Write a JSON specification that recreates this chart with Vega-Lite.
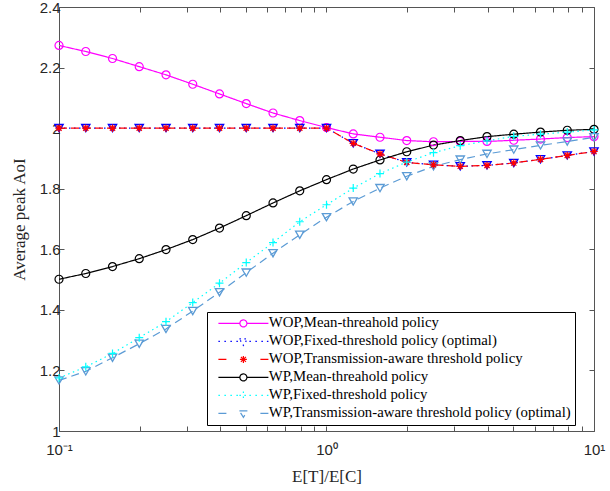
{
  "$schema": "https://vega.github.io/schema/vega-lite/v6.json",
  "width": 535,
  "height": 424,
  "autosize": {"type": "none"},
  "padding": {"left": 59, "top": 7, "right": 16, "bottom": 60},
  "background": "white",
  "config": {
    "font": "Liberation Sans",
    "view": {"stroke": "#555555", "strokeWidth": 1}
  },
  "data": {
    "values": [
      {"ratio": 0.1, "aoi": 2.273, "policy": "WOP,Mean-threahold policy"},
      {"ratio": 0.1259, "aoi": 2.253, "policy": "WOP,Mean-threahold policy"},
      {"ratio": 0.1585, "aoi": 2.230, "policy": "WOP,Mean-threahold policy"},
      {"ratio": 0.1995, "aoi": 2.203, "policy": "WOP,Mean-threahold policy"},
      {"ratio": 0.2512, "aoi": 2.176, "policy": "WOP,Mean-threahold policy"},
      {"ratio": 0.3162, "aoi": 2.145, "policy": "WOP,Mean-threahold policy"},
      {"ratio": 0.3981, "aoi": 2.113, "policy": "WOP,Mean-threahold policy"},
      {"ratio": 0.5012, "aoi": 2.081, "policy": "WOP,Mean-threahold policy"},
      {"ratio": 0.631, "aoi": 2.050, "policy": "WOP,Mean-threahold policy"},
      {"ratio": 0.7943, "aoi": 2.025, "policy": "WOP,Mean-threahold policy"},
      {"ratio": 1, "aoi": 2.002, "policy": "WOP,Mean-threahold policy"},
      {"ratio": 1.2589, "aoi": 1.981, "policy": "WOP,Mean-threahold policy"},
      {"ratio": 1.5849, "aoi": 1.970, "policy": "WOP,Mean-threahold policy"},
      {"ratio": 1.9953, "aoi": 1.959, "policy": "WOP,Mean-threahold policy"},
      {"ratio": 2.5119, "aoi": 1.955, "policy": "WOP,Mean-threahold policy"},
      {"ratio": 3.1623, "aoi": 1.956, "policy": "WOP,Mean-threahold policy"},
      {"ratio": 3.9811, "aoi": 1.956, "policy": "WOP,Mean-threahold policy"},
      {"ratio": 5.0119, "aoi": 1.960, "policy": "WOP,Mean-threahold policy"},
      {"ratio": 6.3096, "aoi": 1.964, "policy": "WOP,Mean-threahold policy"},
      {"ratio": 7.9433, "aoi": 1.969, "policy": "WOP,Mean-threahold policy"},
      {"ratio": 10, "aoi": 1.972, "policy": "WOP,Mean-threahold policy"},

      {"ratio": 0.1, "aoi": 2.0, "policy": "WOP,Fixed-threshold policy (optimal)"},
      {"ratio": 0.1259, "aoi": 2.0, "policy": "WOP,Fixed-threshold policy (optimal)"},
      {"ratio": 0.1585, "aoi": 2.0, "policy": "WOP,Fixed-threshold policy (optimal)"},
      {"ratio": 0.1995, "aoi": 2.0, "policy": "WOP,Fixed-threshold policy (optimal)"},
      {"ratio": 0.2512, "aoi": 2.0, "policy": "WOP,Fixed-threshold policy (optimal)"},
      {"ratio": 0.3162, "aoi": 2.0, "policy": "WOP,Fixed-threshold policy (optimal)"},
      {"ratio": 0.3981, "aoi": 2.0, "policy": "WOP,Fixed-threshold policy (optimal)"},
      {"ratio": 0.5012, "aoi": 2.0, "policy": "WOP,Fixed-threshold policy (optimal)"},
      {"ratio": 0.631, "aoi": 2.0, "policy": "WOP,Fixed-threshold policy (optimal)"},
      {"ratio": 0.7943, "aoi": 2.0, "policy": "WOP,Fixed-threshold policy (optimal)"},
      {"ratio": 1, "aoi": 2.0, "policy": "WOP,Fixed-threshold policy (optimal)"},
      {"ratio": 1.2589, "aoi": 1.950, "policy": "WOP,Fixed-threshold policy (optimal)"},
      {"ratio": 1.5849, "aoi": 1.915, "policy": "WOP,Fixed-threshold policy (optimal)"},
      {"ratio": 1.9953, "aoi": 1.887, "policy": "WOP,Fixed-threshold policy (optimal)"},
      {"ratio": 2.5119, "aoi": 1.879, "policy": "WOP,Fixed-threshold policy (optimal)"},
      {"ratio": 3.1623, "aoi": 1.874, "policy": "WOP,Fixed-threshold policy (optimal)"},
      {"ratio": 3.9811, "aoi": 1.877, "policy": "WOP,Fixed-threshold policy (optimal)"},
      {"ratio": 5.0119, "aoi": 1.885, "policy": "WOP,Fixed-threshold policy (optimal)"},
      {"ratio": 6.3096, "aoi": 1.897, "policy": "WOP,Fixed-threshold policy (optimal)"},
      {"ratio": 7.9433, "aoi": 1.910, "policy": "WOP,Fixed-threshold policy (optimal)"},
      {"ratio": 10, "aoi": 1.923, "policy": "WOP,Fixed-threshold policy (optimal)"},

      {"ratio": 0.1, "aoi": 2.0, "policy": "WOP,Transmission-aware threshold policy"},
      {"ratio": 0.1259, "aoi": 2.0, "policy": "WOP,Transmission-aware threshold policy"},
      {"ratio": 0.1585, "aoi": 2.0, "policy": "WOP,Transmission-aware threshold policy"},
      {"ratio": 0.1995, "aoi": 2.0, "policy": "WOP,Transmission-aware threshold policy"},
      {"ratio": 0.2512, "aoi": 2.0, "policy": "WOP,Transmission-aware threshold policy"},
      {"ratio": 0.3162, "aoi": 2.0, "policy": "WOP,Transmission-aware threshold policy"},
      {"ratio": 0.3981, "aoi": 2.0, "policy": "WOP,Transmission-aware threshold policy"},
      {"ratio": 0.5012, "aoi": 2.0, "policy": "WOP,Transmission-aware threshold policy"},
      {"ratio": 0.631, "aoi": 2.0, "policy": "WOP,Transmission-aware threshold policy"},
      {"ratio": 0.7943, "aoi": 2.0, "policy": "WOP,Transmission-aware threshold policy"},
      {"ratio": 1, "aoi": 2.0, "policy": "WOP,Transmission-aware threshold policy"},
      {"ratio": 1.2589, "aoi": 1.950, "policy": "WOP,Transmission-aware threshold policy"},
      {"ratio": 1.5849, "aoi": 1.915, "policy": "WOP,Transmission-aware threshold policy"},
      {"ratio": 1.9953, "aoi": 1.887, "policy": "WOP,Transmission-aware threshold policy"},
      {"ratio": 2.5119, "aoi": 1.879, "policy": "WOP,Transmission-aware threshold policy"},
      {"ratio": 3.1623, "aoi": 1.874, "policy": "WOP,Transmission-aware threshold policy"},
      {"ratio": 3.9811, "aoi": 1.877, "policy": "WOP,Transmission-aware threshold policy"},
      {"ratio": 5.0119, "aoi": 1.885, "policy": "WOP,Transmission-aware threshold policy"},
      {"ratio": 6.3096, "aoi": 1.897, "policy": "WOP,Transmission-aware threshold policy"},
      {"ratio": 7.9433, "aoi": 1.910, "policy": "WOP,Transmission-aware threshold policy"},
      {"ratio": 10, "aoi": 1.923, "policy": "WOP,Transmission-aware threshold policy"},

      {"ratio": 0.1, "aoi": 1.501, "policy": "WP,Mean-threahold policy"},
      {"ratio": 0.1259, "aoi": 1.520, "policy": "WP,Mean-threahold policy"},
      {"ratio": 0.1585, "aoi": 1.543, "policy": "WP,Mean-threahold policy"},
      {"ratio": 0.1995, "aoi": 1.569, "policy": "WP,Mean-threahold policy"},
      {"ratio": 0.2512, "aoi": 1.599, "policy": "WP,Mean-threahold policy"},
      {"ratio": 0.3162, "aoi": 1.632, "policy": "WP,Mean-threahold policy"},
      {"ratio": 0.3981, "aoi": 1.670, "policy": "WP,Mean-threahold policy"},
      {"ratio": 0.5012, "aoi": 1.711, "policy": "WP,Mean-threahold policy"},
      {"ratio": 0.631, "aoi": 1.753, "policy": "WP,Mean-threahold policy"},
      {"ratio": 0.7943, "aoi": 1.793, "policy": "WP,Mean-threahold policy"},
      {"ratio": 1, "aoi": 1.830, "policy": "WP,Mean-threahold policy"},
      {"ratio": 1.2589, "aoi": 1.865, "policy": "WP,Mean-threahold policy"},
      {"ratio": 1.5849, "aoi": 1.895, "policy": "WP,Mean-threahold policy"},
      {"ratio": 1.9953, "aoi": 1.922, "policy": "WP,Mean-threahold policy"},
      {"ratio": 2.5119, "aoi": 1.944, "policy": "WP,Mean-threahold policy"},
      {"ratio": 3.1623, "aoi": 1.959, "policy": "WP,Mean-threahold policy"},
      {"ratio": 3.9811, "aoi": 1.972, "policy": "WP,Mean-threahold policy"},
      {"ratio": 5.0119, "aoi": 1.980, "policy": "WP,Mean-threahold policy"},
      {"ratio": 6.3096, "aoi": 1.987, "policy": "WP,Mean-threahold policy"},
      {"ratio": 7.9433, "aoi": 1.993, "policy": "WP,Mean-threahold policy"},
      {"ratio": 10, "aoi": 1.996, "policy": "WP,Mean-threahold policy"},

      {"ratio": 0.1, "aoi": 1.175, "policy": "WP,Fixed-threshold policy"},
      {"ratio": 0.1259, "aoi": 1.212, "policy": "WP,Fixed-threshold policy"},
      {"ratio": 0.1585, "aoi": 1.256, "policy": "WP,Fixed-threshold policy"},
      {"ratio": 0.1995, "aoi": 1.308, "policy": "WP,Fixed-threshold policy"},
      {"ratio": 0.2512, "aoi": 1.361, "policy": "WP,Fixed-threshold policy"},
      {"ratio": 0.3162, "aoi": 1.424, "policy": "WP,Fixed-threshold policy"},
      {"ratio": 0.3981, "aoi": 1.488, "policy": "WP,Fixed-threshold policy"},
      {"ratio": 0.5012, "aoi": 1.556, "policy": "WP,Fixed-threshold policy"},
      {"ratio": 0.631, "aoi": 1.622, "policy": "WP,Fixed-threshold policy"},
      {"ratio": 0.7943, "aoi": 1.691, "policy": "WP,Fixed-threshold policy"},
      {"ratio": 1, "aoi": 1.747, "policy": "WP,Fixed-threshold policy"},
      {"ratio": 1.2589, "aoi": 1.802, "policy": "WP,Fixed-threshold policy"},
      {"ratio": 1.5849, "aoi": 1.850, "policy": "WP,Fixed-threshold policy"},
      {"ratio": 1.9953, "aoi": 1.888, "policy": "WP,Fixed-threshold policy"},
      {"ratio": 2.5119, "aoi": 1.919, "policy": "WP,Fixed-threshold policy"},
      {"ratio": 3.1623, "aoi": 1.942, "policy": "WP,Fixed-threshold policy"},
      {"ratio": 3.9811, "aoi": 1.958, "policy": "WP,Fixed-threshold policy"},
      {"ratio": 5.0119, "aoi": 1.973, "policy": "WP,Fixed-threshold policy"},
      {"ratio": 6.3096, "aoi": 1.980, "policy": "WP,Fixed-threshold policy"},
      {"ratio": 7.9433, "aoi": 1.987, "policy": "WP,Fixed-threshold policy"},
      {"ratio": 10, "aoi": 1.994, "policy": "WP,Fixed-threshold policy"},

      {"ratio": 0.1, "aoi": 1.167, "policy": "WP,Transmission-aware threshold policy (optimal)"},
      {"ratio": 0.1259, "aoi": 1.197, "policy": "WP,Transmission-aware threshold policy (optimal)"},
      {"ratio": 0.1585, "aoi": 1.242, "policy": "WP,Transmission-aware threshold policy (optimal)"},
      {"ratio": 0.1995, "aoi": 1.288, "policy": "WP,Transmission-aware threshold policy (optimal)"},
      {"ratio": 0.2512, "aoi": 1.337, "policy": "WP,Transmission-aware threshold policy (optimal)"},
      {"ratio": 0.3162, "aoi": 1.396, "policy": "WP,Transmission-aware threshold policy (optimal)"},
      {"ratio": 0.3981, "aoi": 1.458, "policy": "WP,Transmission-aware threshold policy (optimal)"},
      {"ratio": 0.5012, "aoi": 1.523, "policy": "WP,Transmission-aware threshold policy (optimal)"},
      {"ratio": 0.631, "aoi": 1.587, "policy": "WP,Transmission-aware threshold policy (optimal)"},
      {"ratio": 0.7943, "aoi": 1.648, "policy": "WP,Transmission-aware threshold policy (optimal)"},
      {"ratio": 1, "aoi": 1.706, "policy": "WP,Transmission-aware threshold policy (optimal)"},
      {"ratio": 1.2589, "aoi": 1.758, "policy": "WP,Transmission-aware threshold policy (optimal)"},
      {"ratio": 1.5849, "aoi": 1.802, "policy": "WP,Transmission-aware threshold policy (optimal)"},
      {"ratio": 1.9953, "aoi": 1.841, "policy": "WP,Transmission-aware threshold policy (optimal)"},
      {"ratio": 2.5119, "aoi": 1.874, "policy": "WP,Transmission-aware threshold policy (optimal)"},
      {"ratio": 3.1623, "aoi": 1.896, "policy": "WP,Transmission-aware threshold policy (optimal)"},
      {"ratio": 3.9811, "aoi": 1.915, "policy": "WP,Transmission-aware threshold policy (optimal)"},
      {"ratio": 5.0119, "aoi": 1.929, "policy": "WP,Transmission-aware threshold policy (optimal)"},
      {"ratio": 6.3096, "aoi": 1.943, "policy": "WP,Transmission-aware threshold policy (optimal)"},
      {"ratio": 7.9433, "aoi": 1.956, "policy": "WP,Transmission-aware threshold policy (optimal)"},
      {"ratio": 10, "aoi": 1.970, "policy": "WP,Transmission-aware threshold policy (optimal)"}
    ]
  },
  "layer": [
    {
      "mark": {"type": "line", "strokeWidth": 1.2, "clip": false},
      "encoding": {
        "x": {
          "field": "ratio", "type": "quantitative",
          "scale": {"type": "log", "domain": [0.1, 10], "nice": false},
          "axis": {
            "orient": "bottom",
            "title": "E[T]/E[C]",
            "titleFont": "Liberation Serif", "titleFontSize": 17, "titleFontWeight": "normal", "titleColor": "#262626",
            "titlePadding": 11,
            "values": [0.1, 0.2, 0.3, 0.4, 0.5, 0.6, 0.7, 0.8, 0.9, 1, 2, 3, 4, 5, 6, 7, 8, 9, 10],
            "labelExpr": "datum.value < 0.15 ? '10⁻¹' : (abs(datum.value - 1) < 0.01 ? '10⁰' : (datum.value > 9.5 ? '10¹' : ''))",
            "labelFont": "Liberation Sans", "labelFontSize": 15, "labelColor": "#262626",
            "labelFlush": false, "labelOverlap": false, "labelPadding": 16,
            "tickSize": -5, "tickColor": "#555555", "tickWidth": 1,
            "domain": false, "grid": false
          }
        },
        "y": {
          "field": "aoi", "type": "quantitative",
          "scale": {"domain": [1, 2.4], "nice": false, "zero": false},
          "axis": {
            "orient": "left",
            "title": "Average peak AoI",
            "titleFont": "Liberation Serif", "titleFontSize": 17, "titleFontWeight": "normal", "titleColor": "#262626",
            "titlePadding": 11,
            "values": [1, 1.2, 1.4, 1.6, 1.8, 2, 2.2, 2.4],
            "format": "~g",
            "labelFont": "Liberation Sans", "labelFontSize": 15, "labelColor": "#262626",
            "labelFlush": false, "labelOverlap": false, "labelPadding": 4,
            "tickSize": -5, "tickColor": "#555555", "tickWidth": 1,
            "domain": false, "grid": false
          }
        },
        "color": {
          "field": "policy", "type": "nominal",
          "scale": {
            "domain": ["WOP,Mean-threahold policy", "WOP,Fixed-threshold policy (optimal)", "WOP,Transmission-aware threshold policy", "WP,Mean-threahold policy", "WP,Fixed-threshold policy", "WP,Transmission-aware threshold policy (optimal)"],
            "range": ["#FF00FF", "#0000FF", "#FF0000", "#000000", "#00FFFF", "#5B9BD5"]
          },
          "legend": {
            "orient": "none", "legendX": 148, "legendY": 305,
            "title": null,
            "symbolSize": 4, "symbolStrokeWidth": 1.2,
            "labelFont": "Liberation Serif", "labelFontSize": 14.8, "labelColor": "#000000",
            "labelOffset": 43, "labelLimit": 400,
            "padding": 4, "rowPadding": 2.0,
            "strokeColor": "#000000", "fillColor": "#FFFFFF",
            "encode": {
              "symbols": {
                "update": {
                  "fill": {"value": "transparent"},
                  "strokeDash": {"value": []},
                  "shape": {"signal": "(datum.value == 'WOP,Mean-threahold policy' || datum.value == 'WP,Mean-threahold policy') ? 'M0,0L21.5,0M28.5,0L50,0M28.5,0A3.5,3.5 0 1,1 21.5,0A3.5,3.5 0 1,1 28.5,0' : (datum.value == 'WOP,Fixed-threshold policy (optimal)' ? 'M0,0L1.5,0M6,0L7.5,0M12,0L13.5,0M18,0L19.5,0M31,0L32.5,0M37,0L38.5,0M43,0L44.5,0M48.5,0L50,0M21,-2.5L29,-2.5L25,4Z' : (datum.value == 'WOP,Transmission-aware threshold policy' ? 'M0,0L8,0M42,0L50,0M21.5,0L28.5,0M25,-3.5L25,3.5M22.5,-2.5L27.5,2.5M22.5,2.5L27.5,-2.5' : (datum.value == 'WP,Fixed-threshold policy' ? 'M0,0L1.5,0M6,0L7.5,0M12,0L13.5,0M18,0L19.5,0M31,0L32.5,0M37,0L38.5,0M43,0L44.5,0M48.5,0L50,0M21,0L29,0M25,-4L25,4' : 'M0,0L8,0M42,0L50,0M21,-2.5L29,-2.5L25,4Z')))"}
                }
              }
            }
          }
        },
        "strokeDash": {
          "field": "policy", "type": "nominal",
          "scale": {
            "domain": ["WOP,Mean-threahold policy", "WOP,Fixed-threshold policy (optimal)", "WOP,Transmission-aware threshold policy", "WP,Mean-threahold policy", "WP,Fixed-threshold policy", "WP,Transmission-aware threshold policy (optimal)"],
            "range": [[1, 0], [1.5, 3.5], [8, 4], [1, 0], [1.5, 3.5], [8, 5]]
          },
          "legend": null
        }
      }
    },
    {
      "transform": [{"filter": {"field": "policy", "oneOf": ["WOP,Mean-threahold policy", "WP,Mean-threahold policy"]}}],
      "mark": {"type": "point", "shape": "circle", "filled": false, "size": 64, "strokeWidth": 1.2, "opacity": 1, "clip": false},
      "encoding": {
        "x": {
          "field": "ratio", "type": "quantitative",
          "axis": {
            "orient": "top", "title": null, "labels": false,
            "values": [0.1, 0.2, 0.3, 0.4, 0.5, 0.6, 0.7, 0.8, 0.9, 1, 2, 3, 4, 5, 6, 7, 8, 9, 10],
            "tickSize": -5, "tickColor": "#555555", "tickWidth": 1,
            "domain": false, "grid": false
          }
        },
        "y": {
          "field": "aoi", "type": "quantitative",
          "axis": {
            "orient": "right", "title": null, "labels": false,
            "values": [1, 1.2, 1.4, 1.6, 1.8, 2, 2.2, 2.4],
            "tickSize": -5, "tickColor": "#555555", "tickWidth": 1,
            "domain": false, "grid": false
          }
        },
        "color": {"field": "policy", "type": "nominal", "legend": null}
      }
    },
    {
      "transform": [{"filter": {"field": "policy", "oneOf": ["WOP,Fixed-threshold policy (optimal)", "WP,Transmission-aware threshold policy (optimal)"]}}],
      "mark": {"type": "point", "shape": "triangle-down", "filled": false, "size": 70, "strokeWidth": 1.3, "opacity": 1, "clip": false},
      "encoding": {
        "x": {"field": "ratio", "type": "quantitative", "axis": null},
        "y": {"field": "aoi", "type": "quantitative", "axis": null},
        "color": {"field": "policy", "type": "nominal", "legend": null}
      }
    },
    {
      "transform": [{"filter": {"field": "policy", "equal": "WOP,Transmission-aware threshold policy"}}],
      "mark": {"type": "point", "shape": "M-1,0L1,0M0,-1L0,1M-0.7,-0.7L0.7,0.7M-0.7,0.7L0.7,-0.7", "filled": false, "size": 56, "strokeWidth": 1.2, "opacity": 1, "clip": false},
      "encoding": {
        "x": {"field": "ratio", "type": "quantitative", "axis": null},
        "y": {"field": "aoi", "type": "quantitative", "axis": null},
        "color": {"field": "policy", "type": "nominal", "legend": null}
      }
    },
    {
      "transform": [{"filter": {"field": "policy", "equal": "WP,Fixed-threshold policy"}}],
      "mark": {"type": "point", "shape": "M-1,0L1,0M0,-1L0,1", "filled": false, "size": 64, "strokeWidth": 1.2, "opacity": 1, "clip": false},
      "encoding": {
        "x": {"field": "ratio", "type": "quantitative", "axis": null},
        "y": {"field": "aoi", "type": "quantitative", "axis": null},
        "color": {"field": "policy", "type": "nominal", "legend": null}
      }
    }
  ],
  "resolve": {"axis": {"x": "independent", "y": "independent"}}
}
